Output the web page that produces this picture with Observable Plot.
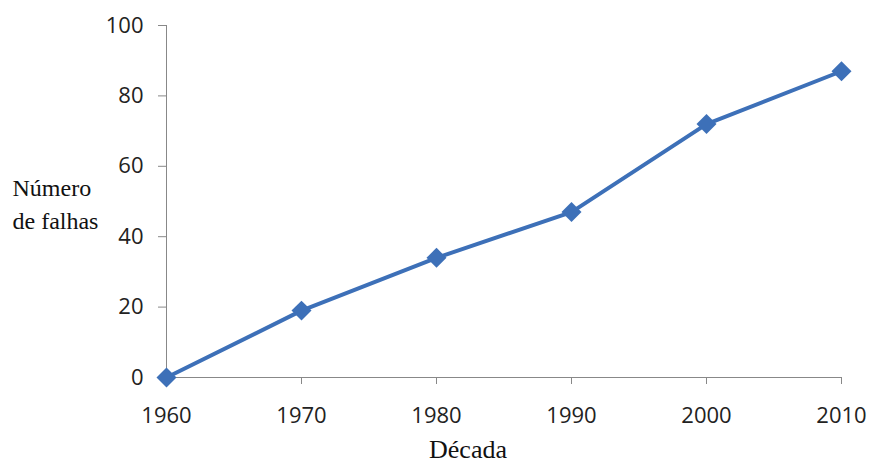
<!DOCTYPE html>
<html><head><meta charset="utf-8">
<script src="https://cdn.jsdelivr.net/npm/d3@7"></script>
<script src="https://cdn.jsdelivr.net/npm/@observablehq/plot@0.6"></script>
<style>body{margin:0;background:#fff}</style>
</head><body><div id="chart"></div>
<script>
const decades = [1960, 1970, 1980, 1990, 2000, 2010];
const falhas = [0, 19, 34, 47, 72, 87];
const yTicks = [0, 20, 40, 60, 80, 100];
const yLabel = "Número\nde falhas";
const xLabel = "Década";

const data = decades.map((d, i) => ({decada: d, falhas: falhas[i]}));
const blue = "#3d70b8";

const chart = Plot.plot({
  width: 874, height: 467,
  marginLeft: 166, marginRight: 33, marginTop: 25, marginBottom: 90,
  style: {fontFamily: "'Open Sans', sans-serif", fontSize: "22px", color: "#222", background: "#fff"},
  x: {domain: [1960, 2010]},
  y: {domain: [0, 100]},
  marks: [
    Plot.axisX({ticks: decades, tickFormat: d => String(d), tickSize: 7, tickPadding: 23, stroke: "#888", fill: "#222", label: null, fontSize: 22}),
    Plot.axisY({ticks: yTicks, tickSize: 8, tickPadding: 15, stroke: "#888", fill: "#222", label: null, fontSize: 22}),
    Plot.ruleX([1960], {stroke: "#888", strokeWidth: 1}),
    Plot.ruleY([0], {stroke: "#888", strokeWidth: 1}),
    Plot.line(data, {x: "decada", y: "falhas", stroke: blue, strokeWidth: 4}),
    Plot.dot(data, {x: "decada", y: "falhas", symbol: "diamond2", r: 9, fill: blue, stroke: "none"}),
    Plot.text([yLabel], {frameAnchor: "left", dx: -154, textAnchor: "start", lineAnchor: "middle", lineHeight: 1.375, fontSize: 24, fontFamily: "'Liberation Serif', serif", fill: "#111"}),
    Plot.text([xLabel], {frameAnchor: "bottom", dx: -36, dy: 80, lineAnchor: "bottom", fontSize: 26, fontFamily: "'Liberation Serif', serif", fill: "#111"})
  ]
});
document.getElementById("chart").appendChild(chart);
</script>
</body></html>
